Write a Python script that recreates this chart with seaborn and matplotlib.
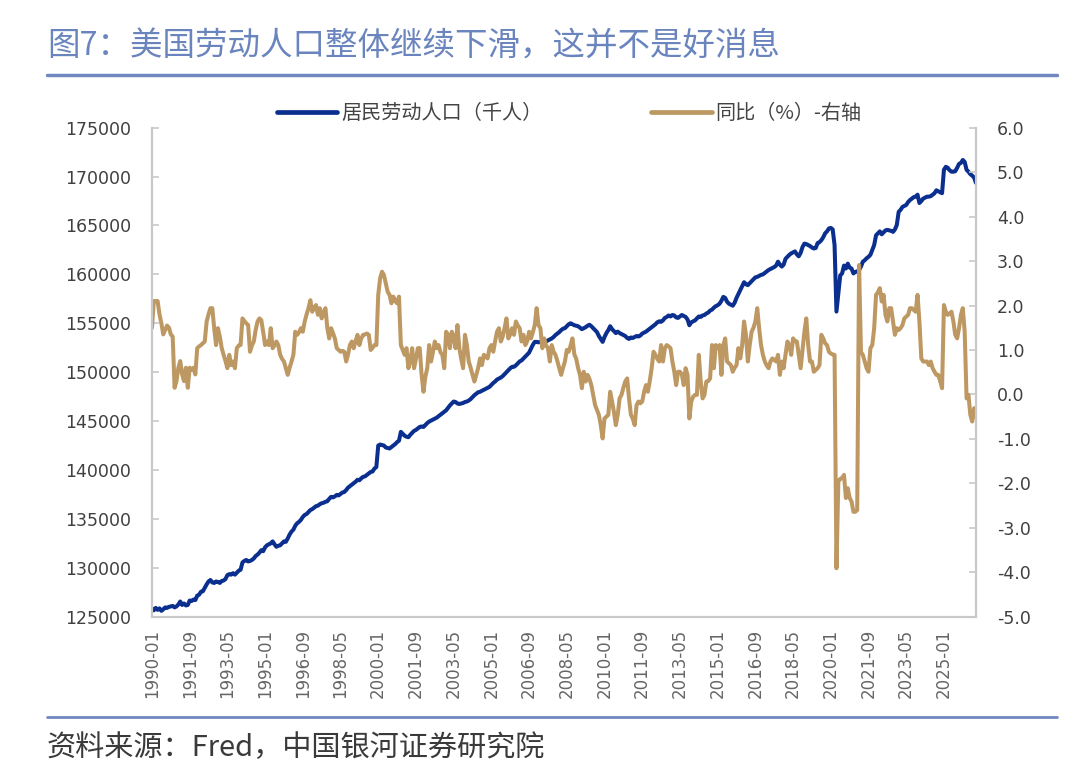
import pandas as pd
import matplotlib
matplotlib.use("Agg")
import matplotlib.pyplot as plt
from matplotlib.lines import Line2D
import seaborn as sns

# monthly, 1990-01 .. 2026-06
months = pd.period_range("1990-01", periods=438, freq="M").strftime("%Y-%m").tolist()

# civilian labor force, thousands (left axis)
labor_force = [
    125800, 125650, 125900, 125700, 125850, 125600, 125750, 125950, 125900, 126000, 126050, 126100,  # 1990
    125950, 126050, 126250, 126550, 126200, 126350, 126150, 126200, 126650, 126600, 126750, 126700,  # 1991
    127150, 127250, 127550, 127600, 127950, 128300, 128600, 128750, 128500, 128450, 128600, 128550,  # 1992
    128450, 128650, 128700, 128850, 129250, 129350, 129300, 129450, 129300, 129500, 129700, 129800,  # 1993
    130550, 130700, 130800, 130650, 130700, 130800, 130950, 131200, 131350, 131550, 131800, 131700,  # 1994
    132100, 132300, 132400, 132500, 132700, 132400, 132150, 132250, 132300, 132500, 132700, 132650,  # 1995
    133000, 133400, 133700, 133900, 134300, 134550, 134700, 134900, 135200, 135400, 135500, 135700,  # 1996
    135900, 136000, 136150, 136300, 136350, 136500, 136600, 136650, 136750, 136800, 137050, 137250,  # 1997
    137200, 137300, 137450, 137400, 137550, 137700, 137750, 137950, 138200, 138350, 138500, 138650,  # 1998
    138800, 139000, 138950, 139150, 139300, 139350, 139500, 139650, 139800, 139850, 140150, 140300,  # 1999
    142500, 142600, 142550, 142500, 142300, 142250, 142200, 142350, 142500, 142650, 142850, 143000,  # 2000
    143900, 143700, 143500, 143400, 143350, 143600, 143800, 144000, 144100, 144250, 144400, 144450,  # 2001
    144400, 144600, 144800, 144950, 145050, 145150, 145250, 145350, 145500, 145650, 145800, 145950,  # 2002
    146100, 146350, 146600, 146800, 147000, 146950, 146800, 146750, 146800, 146850, 146950, 147000,  # 2003
    147100, 147250, 147450, 147650, 147800, 147950, 148000, 148100, 148200, 148300, 148400, 148500,  # 2004
    148700, 148900, 149050, 149250, 149350, 149450, 149600, 149800, 150000, 150200, 150400, 150550,  # 2005
    150550, 150700, 150900, 151100, 151200, 151400, 151600, 151800, 152000, 152400, 152800, 153100,  # 2006
    153100, 153050, 153100, 153000, 153050, 153150, 153250, 153350, 153450, 153600, 153800, 153950,  # 2007
    154100, 154300, 154450, 154500, 154700, 154900, 155000, 154900, 154800, 154750, 154700, 154550,  # 2008
    154400, 154500, 154600, 154750, 154850, 154700, 154500, 154300, 154100, 153700, 153400, 153100,  # 2009
    153600, 154000, 154300, 154700, 154400, 154200, 154000, 154150, 154000, 153900, 153800, 153700,  # 2010
    153500, 153400, 153550, 153500, 153600, 153700, 153650, 153750, 153950, 154050, 154150, 154300,  # 2011
    154450, 154600, 154750, 154900, 155100, 155200, 155150, 155300, 155550, 155650, 155800, 155700,  # 2012
    155850, 155800, 155600, 155550, 155700, 155850, 155750, 155650, 155400, 154800, 155100, 155200,  # 2013
    155300, 155500, 155700, 155650, 155800, 155850, 156000, 156100, 156300, 156400, 156600, 156750,  # 2014
    156850, 157000, 157300, 157700, 157600, 157200, 157000, 156900, 156800, 157100, 157600, 158000,  # 2015
    158400, 158800, 159200, 159000, 158900, 159100, 159300, 159500, 159700, 159750, 159850, 159950,  # 2016
    160000, 160150, 160300, 160450, 160550, 160650, 160750, 160900, 161300, 161000, 160800, 161000,  # 2017
    161600, 161800, 162000, 162150, 162250, 162350, 162050, 161850, 162200, 162800, 163150, 163100,  # 2018
    163000, 162900, 162750, 162650, 162700, 163200, 163300, 163500, 163800, 164200, 164400, 164700,  # 2019
    164750, 164600, 163000, 156200, 158000, 159900, 160100, 160900, 160600, 161100, 160700, 160600,  # 2020
    160100, 160250, 160300, 160450, 160800, 161300, 161450, 161650, 161800, 162000, 162500, 163000,  # 2021
    164000, 164200, 164400, 164100, 164300, 164500, 164550, 164500, 164450, 164350, 164600, 165050,  # 2022
    166400, 166600, 166900, 167000, 167100, 167400, 167600, 167750, 167900, 167950, 168150, 167300,  # 2023
    167500, 167750, 167850, 167950, 167950, 168000, 168150, 168300, 168600, 168500, 168400, 168300,  # 2024
    170700, 171000, 170900, 170650, 170500, 170500, 170550, 170900, 171300, 171400, 171700, 171500,  # 2025
    170700, 170500, 170250, 170100, 169900, 169350,                                                  # 2026
]

# year-on-year change, % (right axis)
yoy = [
    1.5, 2.1, 2.1, 2.1, 1.8, 1.6, 1.35, 1.45, 1.55, 1.5, 1.35, 1.3,           # 1990
    0.15, 0.3, 0.6, 0.75, 0.45, 0.3, 0.6, 0.15, 0.6, 0.55, 0.6, 0.45,         # 1991
    1.04, 1.08, 1.11, 1.15, 1.19, 1.64, 1.8, 1.94, 1.94, 1.49, 1.11, 1.49,    # 1992
    1.3, 1.04, 0.89, 0.75, 0.59, 0.89, 0.66, 0.74, 0.59, 1.04, 1.1, 1.11,     # 1993
    1.71, 1.65, 1.6, 1.56, 0.96, 1.1, 1.19, 1.45, 1.64, 1.71, 1.67, 1.4,      # 1994
    1.11, 1.19, 1.11, 1.49, 1.04, 1.1, 1.19, 1.11, 0.89, 0.8, 0.74, 0.59,     # 1995
    0.44, 0.6, 0.74, 0.89, 1.41, 1.34, 1.4, 1.49, 1.41, 1.64, 1.8, 1.94,      # 1996
    2.12, 1.86, 1.95, 2.01, 1.79, 1.94, 1.71, 1.85, 1.94, 1.49, 1.26, 1.49,   # 1997
    1.38, 1.26, 1.04, 1.0, 0.96, 0.98, 0.96, 0.74, 0.9, 1.11, 1.19, 1.04,     # 1998
    1.2, 1.34, 1.11, 1.26, 1.34, 1.35, 1.37, 1.34, 1.0, 1.05, 1.11, 1.11,     # 1999
    2.24, 2.61, 2.76, 2.69, 2.5, 2.31, 2.24, 2.05, 2.2, 2.1, 2.05, 2.2,       # 2000
    1.11, 1.0, 0.89, 1.04, 0.59, 0.75, 1.04, 0.59, 0.8, 1.04, 1.04, 0.44,     # 2001
    0.06, 0.4, 0.59, 1.11, 0.74, 0.95, 1.19, 1.04, 1.11, 0.95, 0.89, 0.59,    # 2002
    1.41, 1.34, 1.04, 1.41, 1.3, 1.04, 1.56, 1.04, 0.8, 0.59, 1.34, 1.11,     # 2003
    0.74, 0.6, 0.44, 0.29, 0.44, 0.6, 0.81, 0.66, 0.89, 0.85, 0.81, 1.04,     # 2004
    1.11, 0.96, 1.2, 1.41, 1.49, 1.19, 1.3, 1.49, 1.71, 1.26, 1.35, 1.49,     # 2005
    1.34, 1.64, 1.55, 1.49, 1.19, 1.34, 1.11, 1.2, 1.41, 1.26, 1.4, 1.56,     # 2006
    1.94, 1.56, 1.49, 1.04, 1.26, 1.1, 1.04, 0.74, 1.11, 0.96, 0.89, 0.75,    # 2007
    0.59, 0.44, 0.6, 0.74, 1.0, 0.96, 1.1, 1.26, 0.9, 0.8, 0.59, 0.44,        # 2008
    0.14, 0.51, 0.29, 0.44, 0.35, 0.21, -0.01, -0.24, -0.35, -0.46, -0.69, -0.99,  # 2009
    -0.54, -0.5, -0.46, 0.06, -0.16, -0.4, -0.69, -0.46, -0.09, -0.01, 0.15, 0.29,  # 2010
    0.36, -0.09, -0.46, -0.55, -0.69, -0.24, -0.16, -0.2, -0.16, 0.06, 0.21, 0.06,  # 2011
    0.3, 0.59, 0.96, 0.89, 0.8, 0.74, 1.11, 0.74, 1.04, 1.11, 1.08, 1.04,     # 2012
    0.74, 0.51, 0.21, 0.51, 0.51, 0.45, 0.21, 0.59, 0.44, -0.54, -0.16, -0.05,  # 2013
    -0.01, -0.01, 0.89, 0.3, -0.09, -0.01, 0.29, 0.3, 0.36, 1.11, 0.59, 1.11,   # 2014
    1.04, 1.11, 0.44, 1.11, 1.26, 0.74, 0.7, 0.66, 0.51, 0.6, 0.66, 1.04,     # 2015
    0.81, 1.11, 1.64, 1.34, 0.74, 1.11, 1.41, 1.5, 1.64, 1.94, 1.49, 1.11,    # 2016
    0.89, 0.74, 0.65, 0.59, 0.74, 0.81, 0.78, 0.74, 0.89, 0.44, 0.74, 0.59,   # 2017
    0.9, 1.19, 1.11, 0.89, 1.26, 1.2, 1.19, 0.89, 0.59, 1.0, 1.41, 1.71,      # 2018
    1.11, 0.74, 0.74, 0.51, 0.55, 0.59, 0.66, 1.34, 1.26, 1.15, 1.11, 0.96,   # 2019
    0.92, 0.9, 0.89, -3.91, -1.96, -1.9, -1.88, -1.81, -2.33, -2.11, -2.33, -2.41,  # 2020
    -2.64, -2.64, -2.6, 2.91, 0.95, 0.89, 0.74, 0.59, 0.51, 1.04, 1.11, 1.49,  # 2021
    2.24, 2.3, 2.39, 2.09, 2.24, 1.79, 1.64, 1.94, 1.94, 1.64, 1.34, 1.49,    # 2022
    1.45, 1.49, 1.56, 1.71, 1.75, 1.79, 1.94, 1.94, 1.9, 1.86, 2.24, 1.64,    # 2023
    0.81, 0.74, 0.74, 0.74, 0.66, 0.74, 0.59, 0.51, 0.44, 0.44, 0.3, 0.14,    # 2024
    2.01, 1.86, 1.79, 1.82, 1.86, 1.64, 1.34, 1.26, 1.49, 1.79, 1.94, 1.41,   # 2025
    -0.09, -0.01, -0.46, -0.61, -0.31, -0.5,                                   # 2026
]

left_ticks = list(range(125000, 175001, 5000))
right_ticks = [-5.0, -4.0, -3.0, -2.0, -1.0, 0.0, 1.0, 2.0, 3.0, 4.0, 5.0, 6.0]

df = pd.DataFrame({"month": months, "level": labor_force, "yoy": yoy})
df["idx"] = range(len(df))

BLUE = "#0B2F8E"
TAN = "#BE9862"
SPINE = "#C8C8C8"
ACCENT = "#7088C0"

sns.set_theme(style="white")
plt.rcParams["font.family"] = ["Noto Sans CJK SC", "DejaVu Sans"]

fig = plt.figure(figsize=(10.8, 7.82), dpi=100)
ax = fig.add_axes([0.1407, 0.2114, 0.7630, 0.6253])
ax2 = ax.twinx()

sns.lineplot(data=df, x="idx", y="level", ax=ax, color=BLUE, linewidth=2.9)
sns.lineplot(data=df, x="idx", y="yoy", ax=ax2, color=TAN, linewidth=2.9)

ax.set_xlim(0, len(df) - 1)
ax.set_ylim(125000, 175000)
ax2.set_ylim(-5, 6)
ax.set_yticks(left_ticks)
ax.set_yticklabels([str(v) for v in left_ticks], fontfamily="DejaVu Sans")
ax2.set_yticks(right_ticks)
ax2.set_yticklabels([f"{v:.1f}" for v in right_ticks], fontfamily="DejaVu Sans")
xt = list(range(0, len(df), 20))
ax.set_xticks(xt)
ax.set_xticklabels([months[i] for i in xt], rotation=90, fontfamily="DejaVu Sans")
for a in (ax, ax2):
    a.set_xlabel("")
    a.set_ylabel("")
    a.spines["top"].set_visible(False)
    for s in ("left", "right", "bottom"):
        a.spines[s].set_color(SPINE)
        a.spines[s].set_linewidth(1.5)

ax.tick_params(axis="y", direction="in", length=5, width=1.2, color=SPINE,
               labelsize=12.5, labelcolor="#404040", pad=15)
ax2.tick_params(axis="y", direction="in", length=5, width=1.2, color=SPINE,
                labelsize=12.5, labelcolor="#404040", pad=15)
ax.tick_params(axis="x", length=0, labelsize=12, labelcolor="#666666", pad=9)

handles = [Line2D([], [], color=BLUE, linewidth=3.4), Line2D([], [], color=TAN, linewidth=3.4)]
fig.legend(handles, ["居民劳动人口（千人）", "同比（%）-右轴"], loc="center",
           bbox_to_anchor=(0.527, 0.855), ncol=2, frameon=False, fontsize=14.5,
           handlelength=3.0, handletextpad=0.2, columnspacing=5.4, labelcolor="#444444")

fig.text(0.0435, 0.940, "图7：美国劳动人口整体继续下滑，这并不是好消息",
         fontsize=23.4, fontweight="light", color="#6A84BE", va="center", ha="left")
fig.add_artist(Line2D([0.0435, 0.979], [0.904, 0.904], transform=fig.transFigure,
                      color=ACCENT, linewidth=2.5))
fig.add_artist(Line2D([0.0435, 0.979], [0.0831, 0.0831], transform=fig.transFigure,
                      color=ACCENT, linewidth=2.0))
fig.text(0.0435, 0.0435, "资料来源：Fred，中国银河证券研究院",
         fontsize=21, color="#3A3A3A", va="center", ha="left")

fig.savefig("out.png", dpi=100)
